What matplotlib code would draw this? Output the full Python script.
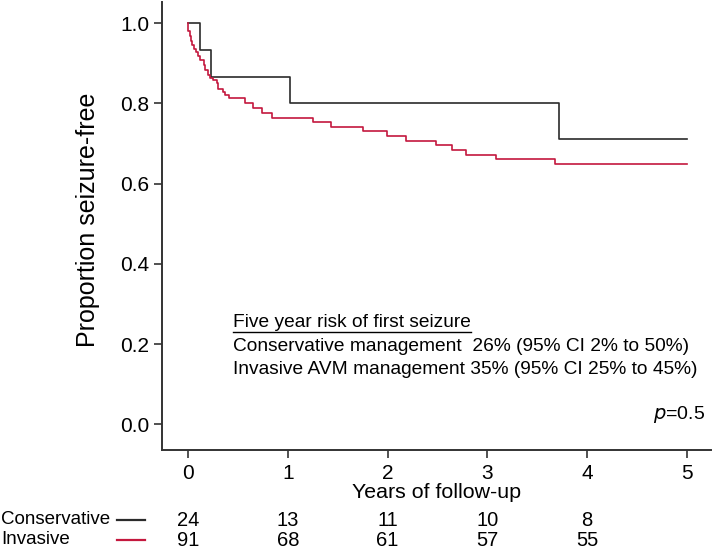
import matplotlib
matplotlib.use("Agg")
import matplotlib.pyplot as plt
from matplotlib import font_manager
from matplotlib.lines import Line2D
import matplotlib.transforms as mtransforms

# ---- data ----
cons_times = [0.0, 0.12, 0.23, 1.02, 3.72, 5.0]
cons_surv = [1.0, 0.933, 0.867, 0.800, 0.711, 0.711]

inv_times = [0.0, 0.003, 0.017, 0.030, 0.040, 0.060, 0.084, 0.100, 0.124, 0.160, 0.174,
             0.200, 0.224, 0.250, 0.287, 0.304, 0.354, 0.370, 0.414, 0.571, 0.655,
             0.738, 0.839, 1.256, 1.430, 1.757, 1.997, 2.180, 2.480, 2.650, 2.790,
             3.090, 3.680, 5.0]
inv_surv = [1.0, 0.980, 0.968, 0.955, 0.947, 0.937, 0.928, 0.918, 0.909, 0.897, 0.884,
            0.872, 0.864, 0.859, 0.850, 0.835, 0.829, 0.821, 0.813, 0.800, 0.788,
            0.777, 0.765, 0.755, 0.742, 0.731, 0.719, 0.707, 0.696, 0.684, 0.672,
            0.661, 0.648, 0.648]

xticks = [0, 1, 2, 3, 4, 5]
yticks = [0.0, 0.2, 0.4, 0.6, 0.8, 1.0]
risk_times = [0, 1, 2, 3, 4]
risk_groups = ["Conservative", "Invasive"]
risk_cons = [24, 13, 11, 10, 8]
risk_inv = [91, 68, 61, 57, 55]

legend_title = "Five year risk of first seizure"
legend_lines = ["Conservative management  26% (95% CI 2% to 50%)",
                "Invasive AVM management 35% (95% CI 25% to 45%)"]

# ---- style ----
names = {f.name for f in font_manager.fontManager.ttflist}
base = "Liberation Sans" if "Liberation Sans" in names else "DejaVu Sans"
plt.rcParams['font.family'] = [base, 'DejaVu Sans']

BLACK = '#2b2b2b'
RED = '#c4183e'
SPINE = '#333333'

fig = plt.figure(figsize=(7.14, 5.49), dpi=100)
ax = fig.add_axes([162/714, 1 - 450/549, (711 - 162)/714, 448/549])

ax.step(cons_times, cons_surv, where='post', color=BLACK, lw=1.2)
ax.step(inv_times, inv_surv, where='post', color=RED, lw=1.2)

ax.set_xlim(-0.26, 5.24)
ax.set_ylim(-0.064, 1.053)
ax.set_xticks(xticks)
ax.set_yticks(yticks)
ax.set_yticklabels([f"{v:.1f}" for v in yticks])
for s in ['top', 'right']:
    ax.spines[s].set_visible(False)
for s in ['left', 'bottom']:
    ax.spines[s].set_color(SPINE)
    ax.spines[s].set_linewidth(1.4)
ax.tick_params(axis='both', colors=SPINE, length=6, width=1.2, labelsize=15,
               labelcolor='black')
ax.tick_params(axis='y', pad=3)
ax.tick_params(axis='x', pad=4)

ax.set_ylabel("Proportion seizure-free", fontsize=18, va='center')
ax.yaxis.set_label_coords(-0.135, 0.513)
ax.set_xlabel("Years of follow-up", fontsize=15.4, va='center')
ax.xaxis.set_label_coords(0.5, -0.094)

# legend text block
x0 = 0.45
title = ax.text(x0, 0.254, legend_title, fontsize=13.8, va='center', ha='left')
ax.text(x0, 0.194, legend_lines[0], fontsize=13.8, va='center', ha='left')
ax.text(x0, 0.137, legend_lines[1], fontsize=13.8, va='center', ha='left')
ax.text(0.99, 0.08, r"$\it{p}$=0.5", fontsize=14, va='center', ha='right',
        transform=ax.transAxes)

# numbers at risk
trans = mtransforms.blended_transform_factory(ax.transData, fig.transFigure)
row_y = [1 - 520/549, 1 - 540/549]
colors = [BLACK, RED]
for name, yy, col, vals in zip(risk_groups, row_y, colors, [risk_cons, risk_inv]):
    fig.text(0.002, yy, name, fontsize=13.5, va='center', ha='left')
    fig.add_artist(Line2D([117/714, 145/714], [yy, yy], color=col, lw=1.6,
                          transform=fig.transFigure))
    for t, v in zip(risk_times, vals):
        fig.text(t, yy, str(v), fontsize=14.5,
                 va='center', ha='center', transform=trans)

# underline the legend title
fig.canvas.draw()
bb = title.get_window_extent()
uy = bb.y0 - 1
fig.add_artist(Line2D([bb.x0, bb.x1], [uy, uy], color='black', lw=1.0,
                      transform=None))

fig.savefig("out.png", dpi=100)
